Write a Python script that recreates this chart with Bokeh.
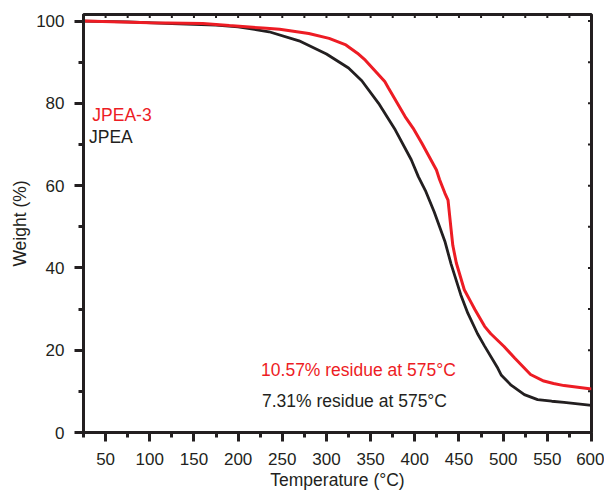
import math
from bokeh.plotting import figure
from bokeh.models import Range1d, FixedTicker, Label
from bokeh.embed import file_html
from bokeh.resources import INLINE

# ---- data ----
temp_jpea = [25, 75, 125, 175, 200, 235, 269, 300, 325, 340, 359, 378, 396, 404, 412,
             422, 434, 441, 452, 460, 471, 479, 494, 498, 509, 524, 539, 555, 569, 600]
wt_jpea = [100.0, 99.8, 99.4, 99.0, 98.6, 97.4, 95.2, 92.0, 88.6, 85.5, 80.0, 73.5, 66.3, 62.2, 58.8,
           53.6, 46.5, 41.0, 33.5, 29.0, 24.0, 21.0, 15.6, 13.9, 11.5, 9.2, 8.0, 7.6, 7.3, 6.6]

temp_jpea3 = [25, 100, 160, 190, 228, 247, 280, 303, 322, 335, 344, 366, 370, 389, 398, 408,
              424.5, 428, 434, 437.6, 441, 443, 447, 456, 464, 468, 479, 486, 501, 513, 531,
              546, 557, 569, 600]
wt_jpea3 = [100.0, 99.6, 99.4, 98.9, 98.3, 98.0, 97.0, 95.8, 94.2, 92.2, 90.5, 85.3, 83.8, 76.8, 74.0, 70.3,
            63.8, 61.5, 58.2, 56.5, 49.5, 45.5, 41.2, 34.7, 31.5, 29.9, 25.8, 24.0, 20.9, 18.1, 14.1,
            12.5, 11.9, 11.4, 10.6]

x_major = [50, 100, 150, 200, 250, 300, 350, 400, 450, 500, 550, 600]
x_minor = [25, 75, 125, 175, 225, 275, 325, 375, 425, 475, 525, 575]
y_major = [0, 20, 40, 60, 80, 100]
y_minor = [10, 30, 50, 70, 90]
x_top = [25, 50, 75, 100, 125, 150, 175, 200, 225, 250, 275, 300, 325, 350, 375,
         400, 425, 450, 475, 500, 525, 550, 575, 600]
y_right = [0, 10, 20, 30, 40, 50, 60, 70, 80, 90, 100]

X_START, X_END = 25, 600
Y_START, Y_END = 0, 101.6

RED = "#ED1C24"
BLK = "#231F20"
FONT = "Liberation Sans"

p = figure(width=604, height=492, output_backend="svg", toolbar_location=None,
           x_range=Range1d(X_START, X_END), y_range=Range1d(Y_START, Y_END),
           min_border_left=83, min_border_right=13, min_border_top=14, min_border_bottom=60)
p.xgrid.visible = False
p.ygrid.visible = False
p.outline_line_color = BLK
p.outline_line_width = 3
p.background_fill_color = "white"
p.border_fill_color = "white"

p.line(temp_jpea, wt_jpea, line_color=BLK, line_width=2.8)
p.line(temp_jpea3, wt_jpea3, line_color=RED, line_width=3)

# small ticks on the top and right frame edges
p.scatter(x=x_top, y=[Y_END] * len(x_top), marker="dash", angle=math.pi / 2,
          size=7, line_color=BLK, line_width=2)
p.scatter(x=[X_END] * len(y_right), y=y_right, marker="dash", angle=0,
          size=7, line_color=BLK, line_width=2)

for ax, maj, mnr in ((p.xaxis[0], x_major, x_minor), (p.yaxis[0], y_major, y_minor)):
    ax.ticker = FixedTicker(ticks=maj, minor_ticks=mnr)
    ax.axis_line_color = BLK
    ax.axis_line_width = 3
    ax.major_tick_line_color = BLK
    ax.major_tick_line_width = 3
    ax.minor_tick_line_color = BLK
    ax.minor_tick_line_width = 3
    ax.major_tick_in = 0
    ax.major_tick_out = 9
    ax.minor_tick_in = 0
    ax.minor_tick_out = 5
    ax.major_label_text_font = FONT
    ax.major_label_text_font_size = "17px"
    ax.major_label_text_color = BLK
    ax.axis_label_text_font = FONT
    ax.axis_label_text_font_size = "17.5px"
    ax.axis_label_text_font_style = "normal"
    ax.axis_label_text_color = BLK

p.xaxis[0].axis_label = "Temperature (°C)"
p.xaxis[0].major_label_standoff = 11
p.xaxis[0].axis_label_standoff = 2
p.yaxis[0].axis_label = "Weight (%)"
p.yaxis[0].major_label_standoff = 10
p.yaxis[0].axis_label_standoff = 3

labels = [
    ("JPEA-3", 35, 77.2, RED),
    ("JPEA", 31.2, 71.9, BLK),
    ("10.57% residue at 575°C", 226, 15.3, RED),
    ("7.31% residue at 575°C", 227, 7.6, BLK),
]
for txt, lx, ly, col in labels:
    p.add_layout(Label(x=lx, y=ly, text=txt, text_color=col, text_font=FONT,
                       text_font_size="17.5px", text_baseline="alphabetic", text_align="left"))

open("out.html", "w").write(file_html(p, INLINE))
